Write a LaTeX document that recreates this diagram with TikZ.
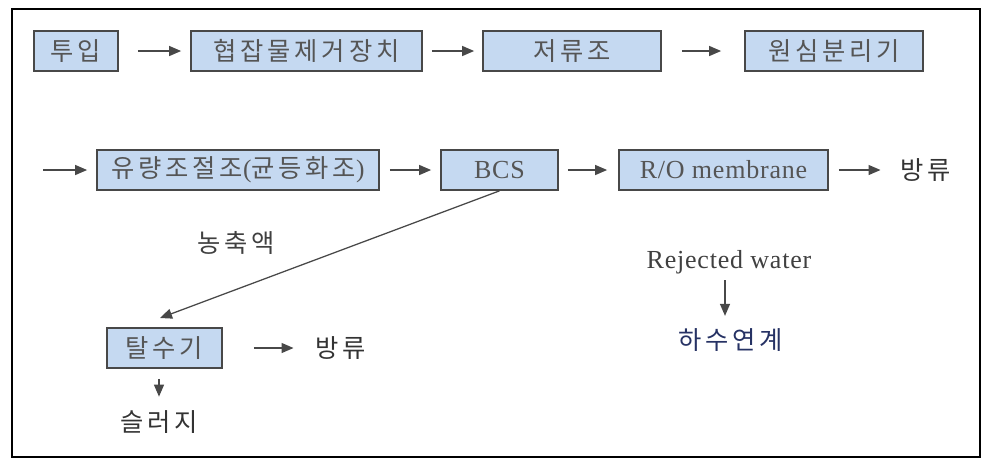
\documentclass[tikz,border=0pt]{standalone}
\usepackage{fontspec}
\setmainfont{Liberation Serif}
\newfontfamily\kor{Noto Sans CJK KR}[LetterSpace=15]
\newfontfamily\lat{Liberation Serif}[LetterSpace=3]
\usetikzlibrary{arrows.meta}
\definecolor{boxblue}{RGB}{197,217,241}
\definecolor{txtgray}{RGB}{85,85,85}
\definecolor{linegray}{RGB}{72,72,72}
\definecolor{sewerblue}{RGB}{38,50,100}
\begin{document}
\begin{tikzpicture}[x=0.025cm,y=-0.025cm,
	box/.style={draw=linegray,line width=1.2pt,fill=boxblue,text=txtgray,minimum height=1cm,inner sep=0pt,font=\kor\fontsize{18}{21}\selectfont},
	ebox/.style={box,font=\lat\fontsize{18.5}{21}\selectfont},
	label/.style={inner sep=0pt,text=#1,font=\kor\fontsize{18}{21}\selectfont},
	arrow/.style={-{Triangle[length=3mm,width=2.5mm]},draw=linegray,line width=0.9pt}]
	\useasboundingbox (0,0) rectangle (988,463);
	\draw[line width=1.8pt] (12,9) rectangle (980,457);
	
	% first row
	\node[box,minimum width=2.1cm] (in) at (76,51) {투입};
	\node[box,minimum width=5.775cm] (screen) at (306.5,51) {협잡물제거장치};
	\node[box,minimum width=4.45cm] (tank) at (572,51) {저류조};
	\node[box,minimum width=4.45cm] (cent) at (834,51) {원심분리기};
	
	% second row
	\coordinate (feed) at (43,170);
	\node[box,minimum width=7.05cm] (eq) at (238,170) {유량조절조{\lat(}균등화조{\lat)}};
	\node[ebox,minimum width=2.925cm] (bcs) at (499.5,170) {BCS};
	\node[ebox,minimum width=5.225cm] (ro) at (723.5,170) {R/O membrane};
	\node[label={black!80}] (out1) at (926,170) {방류};
	
	% concentrate line
	\node[label={black!75}] (conc) at (236,243) {농축액};
	\coordinate (cake) at (160,318);
	\node[box,minimum width=2.875cm] (dewater) at (164.5,348) {탈수기};
	\node[label={black!80}] (out2) at (341,348) {방류};
	\node[label={black!80}] (sludge) at (159,422) {슬러지};
	
	% rejected water
	\node[inner sep=0pt,text=black!75,font=\lat\fontsize{18.5}{21}\selectfont] (rej) at (729,262) {Rejected water};
	\node[label=sewerblue] (sewer) at (731,340) {하수연계};
	
	\foreach \a/\b/\s/\e in {in/screen/0.475cm/0.225cm,screen/tank/0.225cm/0.2cm,tank/cent/0.5cm/0.575cm,eq/bcs/0.25cm/0.225cm,bcs/ro/0.225cm/0.275cm,ro/out1/0.25cm/0.5cm,dewater/out2/0.775cm/0.55cm}
	\draw[arrow,shorten <=\s,shorten >=\e] (\a) -- (\b);
	\draw[arrow,shorten >=0.225cm] (feed) -- (eq);
	\draw[arrow] (bcs.south) -- (cake);
	\draw[arrow,shorten <=0.25cm,shorten >=0.34cm] (sludge.north |- dewater.south) -- (sludge.north);
	\draw[arrow,shorten <=0.15cm,shorten >=0.31cm] ([xshift=-0.1cm]rej.south) -- ([xshift=-0.1cm]rej.south |- sewer.north);
\end{tikzpicture}
\end{document}
